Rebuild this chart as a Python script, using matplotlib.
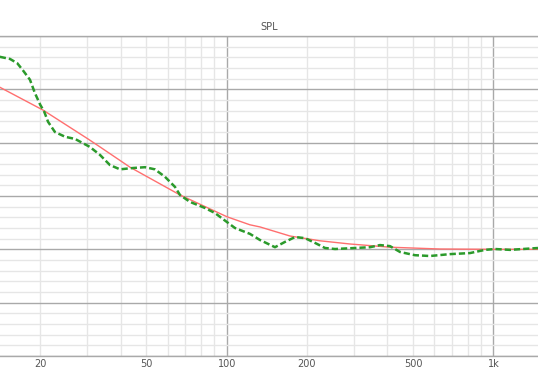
import numpy as np
import matplotlib
matplotlib.use("Agg")
import matplotlib.pyplot as plt
from matplotlib.ticker import LogLocator, MultipleLocator, FuncFormatter, NullFormatter

# ==================== 数据 ====================
# 测量曲线 (绿色虚线)
meas_freq = [14.1, 15.4, 16.4, 17.2, 18.3, 19.1, 20.0, 20.7, 21.4, 22.7, 24.8, 27.0,
             30.7, 33.5, 36.5, 39.8, 44.6, 49.4, 53.8, 58.7, 64.0, 66.8, 72.8, 82.9,
             90.4, 100.3, 107.4, 122.2, 133.3, 151.7, 165.5, 180.4, 196.6, 214.4,
             233.7, 254.8, 302.9, 344.6, 375.6, 409.5, 446.6, 508, 578, 687, 817,
             930, 1014, 1154, 1469]
meas_spl = [116.1, 115.7, 114.9, 113.6, 111.8, 109.3, 107.1, 105.8, 103.9, 102.0, 101.1, 100.7,
            99.2, 97.7, 95.8, 95.0, 95.25, 95.4, 95.0, 93.6, 91.7, 90.2, 88.9, 87.75,
            86.8, 85.1, 84.0, 82.9, 81.75, 80.4, 81.4, 82.3, 82.1, 81.2,
            80.25, 80.06, 80.25, 80.4, 80.8, 80.6, 79.5, 78.9, 78.75, 79.1, 79.3,
            79.9, 80.06, 79.9, 80.25]

# 目标曲线 (红色实线)
target_freq = [14.1, 20.5, 30.2, 33.5, 43.4, 66.8, 100.3, 122.2, 133.3, 172.6,
               223.8, 290, 409.5, 631, 1000, 1469]
target_spl = [110.4, 106.1, 100.7, 99.2, 95.4, 90.2, 86.1, 84.6, 84.2, 82.5,
              81.6, 81.0, 80.4, 80.06, 80.0, 80.0]

tick_labels = {20: "20", 50: "50", 100: "100", 200: "200", 500: "500", 1000: "1k"}

# ==================== 绘图 ====================
fig = plt.figure(figsize=(5.38, 3.82), dpi=100)
ax = fig.add_axes([0.0, 1 - 356 / 382, 1.0, 320 / 382])

ax.plot(target_freq, target_spl, color="#ff6f6f", lw=1.0, zorder=3)
ax.plot(meas_freq, meas_spl, color="#2b9a2b", lw=1.8, dashes=(2.5, 1.2), zorder=4)

ax.set_xscale("log")
ax.set_xlim(14.13, 1469)
ax.set_ylim(60, 120)

ax.xaxis.set_major_locator(LogLocator(base=10))
ax.xaxis.set_minor_locator(LogLocator(base=10, subs=np.arange(2, 10)))

def fmt(v, pos):
    key = int(round(v))
    return tick_labels.get(key, "")

ax.xaxis.set_major_formatter(FuncFormatter(fmt))
ax.xaxis.set_minor_formatter(FuncFormatter(fmt))
ax.yaxis.set_major_locator(MultipleLocator(10))
ax.yaxis.set_minor_locator(MultipleLocator(2))
ax.yaxis.set_major_formatter(NullFormatter())

ax.tick_params(axis="both", which="both", length=0)
ax.tick_params(axis="x", which="both", labelsize=7, labelcolor="#555555", pad=2.5)

ax.grid(which="major", color="#a9a9a9", lw=1.0)
ax.grid(which="minor", color="#e6e6e6", lw=1.0)
ax.set_axisbelow(True)

for side in ["left", "right"]:
    ax.spines[side].set_visible(False)
for side in ["top", "bottom"]:
    ax.spines[side].set_color("#a9a9a9")
    ax.spines[side].set_linewidth(1.0)

ax.set_title("SPL", fontsize=7, color="#555555", pad=4)

fig.savefig("out.png", dpi=100)
